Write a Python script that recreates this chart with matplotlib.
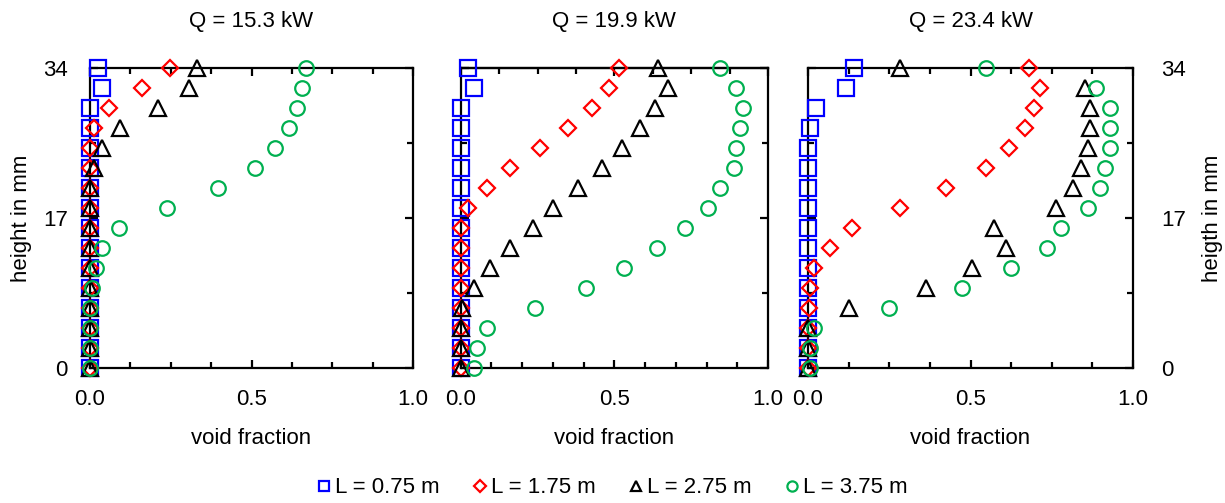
import matplotlib.pyplot as plt
from matplotlib.ticker import MultipleLocator, FixedLocator

plt.rcParams['font.family'] = ['Liberation Sans', 'DejaVu Sans']
plt.rcParams['font.size'] = 16

# alturas dos pontos (mm), de baixo para cima
altura = [0, 2.27, 4.53, 6.8, 9.07, 11.33, 13.6, 15.87, 18.13, 20.4, 22.67, 24.93, 27.2, 29.47, 31.73, 34]

titulos = ['Q = 15.3 kW', 'Q = 19.9 kW', 'Q = 23.4 kW']
rotulos = ['L = 0.75 m', 'L = 1.75 m', 'L = 2.75 m', 'L = 3.75 m']

# fracao de vazio, Q = 15.3 kW
q1_075 = [0, 0, 0, 0, 0, 0, 0, 0, 0, 0, 0, 0, 0, 0, 0.037, 0.024]
q1_175 = [0, 0, 0, 0, 0, 0, 0, 0, 0, 0, 0, 0, 0.012, 0.06, 0.16, 0.247]
q1_275 = [0, 0, 0, 0, 0, 0, 0, 0, 0, 0, 0.012, 0.038, 0.093, 0.209, 0.307, 0.332]
q1_375 = [0, 0, 0, 0, 0.005, 0.018, 0.036, 0.091, 0.239, 0.395, 0.512, 0.574, 0.615, 0.641, 0.655, 0.667]

# Q = 19.9 kW
q2_075 = [0, 0, 0, 0, 0, 0, 0, 0, 0, 0, 0, 0, 0, 0, 0.043, 0.025]
q2_175 = [0, 0, 0, 0, 0, 0, 0, 0, 0.025, 0.085, 0.16, 0.258, 0.35, 0.428, 0.482, 0.515]
q2_275 = [0, 0, 0, 0.003, 0.043, 0.095, 0.16, 0.234, 0.299, 0.382, 0.46, 0.525, 0.583, 0.632, 0.675, 0.642]
q2_375 = [0.043, 0.052, 0.085, 0.242, 0.407, 0.531, 0.637, 0.729, 0.805, 0.845, 0.888, 0.897, 0.91, 0.917, 0.897, 0.845]

# Q = 23.4 kW
q3_075 = [0, 0, 0, 0, 0, 0, 0, 0, 0, 0, 0, 0, 0.007, 0.026, 0.118, 0.142]
q3_175 = [0, 0, 0, 0.002, 0.007, 0.017, 0.069, 0.135, 0.284, 0.424, 0.548, 0.619, 0.669, 0.695, 0.713, 0.681]
q3_275 = [0, 0, 0, 0.125, 0.362, 0.504, 0.609, 0.572, 0.762, 0.816, 0.841, 0.86, 0.867, 0.867, 0.852, 0.284]
q3_375 = [0.007, 0.007, 0.017, 0.248, 0.473, 0.626, 0.736, 0.777, 0.86, 0.898, 0.915, 0.928, 0.928, 0.928, 0.885, 0.548]

dados = [[q1_075, q1_175, q1_275, q1_375],
         [q2_075, q2_175, q2_275, q2_375],
         [q3_075, q3_175, q3_275, q3_375]]

cores = ['#0000FF', '#FF0000', '#000000', '#00B050']
marcadores = ['s', 'D', '^', 'o']
tamanhos = [11, 8.5, 11, 10.5]

fig = plt.figure(figsize=(12.25, 5.03), dpi=100)

# posicoes dos paineis (em fracao da figura)
posicoes = [[0.0735, 0.2684, 0.2637, 0.5964],
            [0.3761, 0.2684, 0.2509, 0.5964],
            [0.6596, 0.2684, 0.2653, 0.5964]]

eixos = []
for p in range(3):
    ax = fig.add_axes(posicoes[p])
    eixos.append(ax)
    for s in range(4):
        ax.plot(dados[p][s], altura, linestyle='none', marker=marcadores[s],
                markersize=tamanhos[s], markerfacecolor='none', markeredgecolor=cores[s],
                markeredgewidth=1.6, clip_on=False, zorder=5, label=rotulos[s])
    ax.set_xlim(0, 1)
    ax.set_ylim(0, 34)
    for lado in ax.spines.values():
        lado.set_linewidth(1.6)
    ax.xaxis.set_major_locator(FixedLocator([0, 0.5, 1.0]))
    ax.set_xticklabels(['0.0', '0.5', '1.0'])
    ax.yaxis.set_major_locator(FixedLocator([0, 17, 34]))
    ax.yaxis.set_minor_locator(FixedLocator([8.5, 25.5]))
    if p == 1:
        ax.xaxis.set_minor_locator(MultipleLocator(0.1))
        topo = ax.secondary_xaxis('top')
        topo.xaxis.set_major_locator(FixedLocator([0, 0.5, 1.0]))
        topo.xaxis.set_minor_locator(MultipleLocator(0.125))
        topo.tick_params(which='both', direction='in', labeltop=False, width=1.6)
        topo.tick_params(which='major', length=6)
        topo.tick_params(which='minor', length=4.5)
        topo.spines['top'].set_linewidth(1.6)
        ax.tick_params(which='both', top=False)
    else:
        ax.xaxis.set_minor_locator(MultipleLocator(0.125))
        ax.tick_params(which='both', top=True)
    ax.tick_params(which='both', direction='in', left=True, right=True, bottom=True, width=1.6)
    ax.tick_params(which='major', length=6)
    ax.tick_params(which='minor', length=4.5)
    ax.tick_params(axis='x', pad=15)
    ax.set_xlabel('void fraction', labelpad=13)
    cx = posicoes[p][0] + posicoes[p][2] / 2
    fig.text(cx, 0.957, titulos[p], ha='center', va='center', fontsize=16)

# eixo y a esquerda so no primeiro painel, a direita so no ultimo
eixos[0].tick_params(axis='y', labelleft=True, pad=16)
eixos[0].set_ylabel('height in mm', labelpad=8)
eixos[1].tick_params(axis='y', labelleft=False)
eixos[2].tick_params(axis='y', labelleft=False, labelright=True, pad=20)
eixos[2].yaxis.set_label_position('right')
eixos[2].set_ylabel('heigth in mm', labelpad=12)

h, l = eixos[0].get_legend_handles_labels()
fig.legend(h, l, loc='center', bbox_to_anchor=(0.5, 0.03), ncol=4, frameon=False,
           markerscale=0.7, handlelength=0.6, handletextpad=0.2, columnspacing=1.5,
           fontsize=16)

fig.savefig('out.png', dpi=100)
